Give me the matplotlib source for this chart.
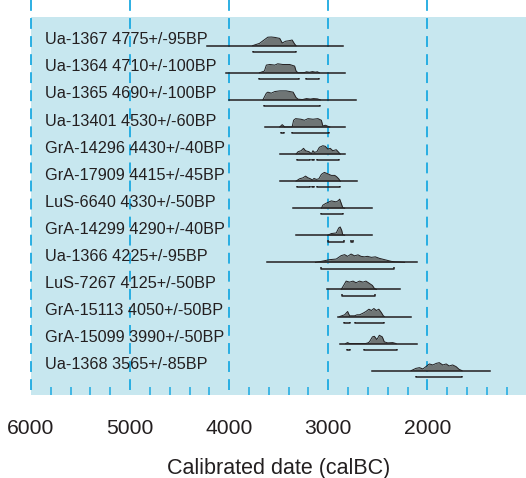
import matplotlib.pyplot as plt
import numpy as np

plt.rcParams['font.family'] = ['Liberation Sans', 'DejaVu Sans']

# sample names and radiocarbon ages
labels = [
    'Ua-1367 4775+/-95BP', 'Ua-1364 4710+/-100BP', 'Ua-1365 4690+/-100BP',
    'Ua-13401 4530+/-60BP', 'GrA-14296 4430+/-40BP', 'GrA-17909 4415+/-45BP',
    'LuS-6640 4330+/-50BP', 'GrA-14299 4290+/-40BP', 'Ua-1366 4225+/-95BP',
    'LuS-7267 4125+/-50BP', 'GrA-15113 4050+/-50BP', 'GrA-15099 3990+/-50BP',
    'Ua-1368 3565+/-85BP',
]

# extent of the calibration line for each sample (calBC)
line_from = [4225, 4035, 4005, 3640, 3490, 3490, 3360, 3325, 3620, 3015, 2905, 2880, 2555]
line_to = [2855, 2835, 2725, 2835, 2835, 2715, 2555, 2555, 2100, 2280, 2165, 2100, 1370]

# calibrated probability distributions: (calBC, relative probability)
dist_years = [
    [3765, 3745, 3695, 3640, 3610, 3575, 3540, 3490, 3465, 3430, 3395, 3365, 3340, 3325],
    [3695, 3645, 3625, 3590, 3540, 3510, 3460, 3390, 3340, 3325, 3305, 3240, 3220, 3190, 3160, 3130, 3110, 3090],
    [3660, 3625, 3610, 3575, 3540, 3490, 3425, 3355, 3325, 3305, 3260, 3220, 3180, 3150, 3110, 3080],
    [3490, 3465, 3440, 3365, 3350, 3330, 3275, 3240, 3205, 3155, 3105, 3070, 3055, 3030, 3005, 2985],
    [3325, 3305, 3275, 3250, 3230, 3195, 3170, 3155, 3140, 3115, 3090, 3055, 3030, 3005, 2980, 2955, 2920, 2895, 2880],
    [3325, 3290, 3255, 3230, 3205, 3180, 3160, 3145, 3120, 3095, 3070, 3040, 3005, 2970, 2935, 2915, 2895, 2880],
    [3070, 3055, 3030, 3005, 2970, 2945, 2920, 2900, 2885, 2870, 2855, 2835],
    [3005, 2970, 2920, 2895, 2880, 2865, 2855, 2835],
    [3130, 3070, 2985, 2920, 2870, 2835, 2805, 2770, 2735, 2700, 2670, 2635, 2605, 2565, 2525, 2485, 2445, 2405, 2365, 2325, 2280, 2230],
    [2870, 2845, 2820, 2785, 2750, 2720, 2685, 2650, 2620, 2585, 2555, 2535, 2515],
    [2885, 2835, 2805, 2785, 2735, 2710, 2685, 2650, 2620, 2590, 2565, 2540, 2515, 2490, 2465, 2445, 2435],
    [2825, 2805, 2785, 2625, 2600, 2585, 2555, 2535, 2510, 2485, 2455, 2435, 2400, 2350, 2315],
    [2165, 2115, 2080, 2045, 2015, 1980, 1945, 1910, 1880, 1845, 1810, 1780, 1745, 1710, 1680, 1650],
]
dist_prob = [
    [0, 0.7, 2.3, 6.3, 8.5, 8.7, 8.3, 7.3, 2.7, 4.5, 5.0, 5.7, 1.7, 0],
    [0, 1.7, 7.7, 8.3, 7.7, 9.0, 8.3, 8.3, 6.7, 1.7, 0, 0.2, 1.0, 0.5, 1.2, 0.6, 1.0, 0],
    [0, 6.7, 7.7, 6.7, 8.3, 9.0, 9.0, 7.7, 2.3, 0.7, 0.3, 1.3, 0.8, 1.3, 1.0, 0],
    [0, 2.3, 0, 0, 6.7, 8.3, 7.7, 6.7, 8.3, 7.7, 8.3, 6.7, 1.0, 1.7, 0.7, 0],
    [0, 2.3, 3.3, 5.7, 3.3, 2.3, 0.3, 3.3, 1.7, 2.3, 6.7, 8.3, 7.7, 5.0, 5.7, 3.3, 4.3, 1.7, 0],
    [0, 2.3, 3.3, 5.0, 3.3, 2.3, 1.0, 2.7, 1.7, 2.3, 6.7, 8.7, 7.3, 5.7, 5.7, 4.3, 2.3, 0],
    [0, 3.0, 4.5, 5.7, 7.3, 6.8, 6.3, 7.5, 9.0, 5.0, 0.7, 0],
    [0, 1.7, 2.3, 7.3, 8.3, 5.0, 0.7, 0],
    [0, 1.0, 2.7, 3.3, 6.7, 7.7, 6.0, 8.3, 6.5, 7.5, 6.0, 5.5, 6.0, 5.0, 5.5, 4.0, 3.0, 2.0, 1.0, 0.5, 0.3, 0],
    [0, 4.0, 8.3, 7.3, 8.3, 6.7, 8.3, 7.3, 8.3, 6.0, 4.0, 1.0, 0],
    [0, 1.7, 5.0, 0.7, 0.7, 1.7, 1.7, 3.3, 5.0, 7.3, 6.0, 8.0, 6.0, 7.3, 4.0, 0.7, 0],
    [0, 1.0, 0, 0, 0.7, 1.7, 6.7, 7.3, 4.0, 8.3, 6.7, 1.7, 0.7, 1.0, 0],
    [0, 2.3, 3.0, 1.7, 4.0, 6.7, 5.7, 7.3, 8.0, 5.7, 6.7, 4.7, 5.7, 4.0, 1.3, 0],
]

# highest probability ranges (calBC), one list of (from, to) per sample
ranges = [
    [(3755, 3330)],
    [(3695, 3300), (3220, 3090)],
    [(3650, 3080)],
    [(3475, 3450), (3365, 2995)],
    [(3315, 3180), (3160, 3140), (3115, 2895)],
    [(3315, 3180), (3160, 3140), (3115, 2885)],
    [(3070, 2855)],
    [(3005, 2845), (2770, 2755)],
    [(3070, 2335)],
    [(2860, 2525)],
    [(2845, 2780), (2730, 2440)],
    [(2815, 2785), (2640, 2310)],
    [(2120, 1650)],
]

grid_years = [6000, 5000, 4000, 3000, 2000]
minor_years = [y for y in range(5800, 1000, -200) if y % 1000]

bg = '#c7e7ef'
cyan = '#1ba9e1'
ink = '#231f20'

fig = plt.figure(figsize=(5.26, 4.78), dpi=100)
ax = fig.add_axes([31 / 526, 1 - 395 / 478, 1 - 31 / 526, 378 / 478])
ax.set_facecolor(bg)
ax.set_xlim(6000, 1005)
# y runs in screen pixels from the top of the figure
ax.set_ylim(395, 17)

for yr in grid_years:
    ax.plot([yr, yr], [0, 395], color=cyan, lw=1.3, dashes=(6, 4),
            clip_on=False, zorder=1)

row0, step = 45.7, 27.08
for i, name in enumerate(labels):
    y = row0 + i * step
    ax.text(5860, y - 1.4, name, fontsize=11.7, color=ink, va='baseline', zorder=5)
    ax.plot([line_from[i], line_to[i]], [y, y], color=ink, lw=1.1, zorder=3)
    xs = np.array(dist_years[i])
    ps = np.array(dist_prob[i])
    ax.fill_between(xs, y, y - ps, color='#6f7575', lw=0, zorder=2)
    ax.plot(xs, y - ps, color=ink, lw=0.7, zorder=3)
    yb = y + 6.3
    for a, b in ranges[i]:
        ax.plot([a, a, b, b], [yb - 1.3, yb, yb, yb - 1.3], color=ink, lw=1.1,
                solid_capstyle='butt', zorder=3)

for s in ax.spines.values():
    s.set_visible(False)
ax.set_yticks([])
ax.set_xticks(grid_years)
ax.set_xticklabels([str(y) for y in grid_years])
ax.set_xticks(minor_years, minor=True)
ax.tick_params(axis='x', which='major', length=0, pad=17, labelsize=15.2, labelcolor=ink)
ax.tick_params(axis='x', which='minor', direction='in', length=6, width=1.1, color=cyan)
ax.set_xlabel('Calibrated date (calBC)', fontsize=15.5, color=ink, labelpad=15)

fig.savefig('out.png', dpi=100)
